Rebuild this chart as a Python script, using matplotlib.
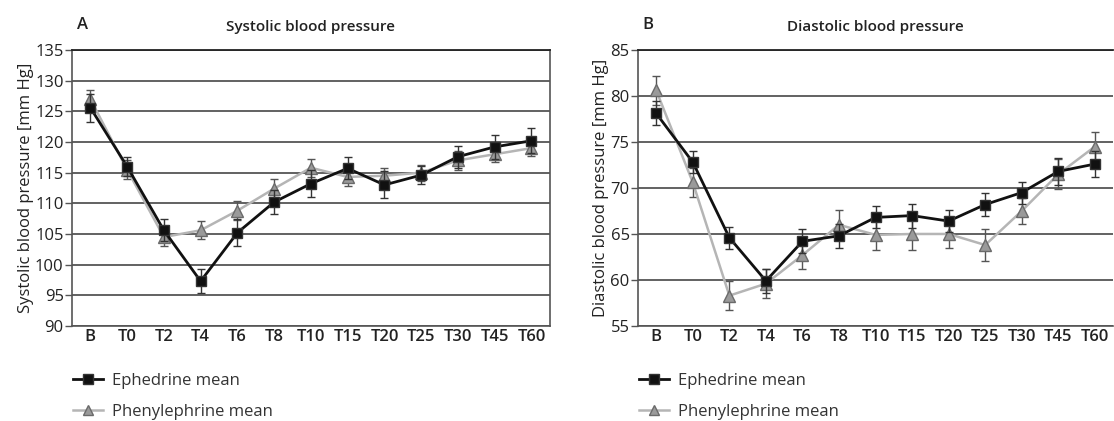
import matplotlib
matplotlib.use("Agg")
import matplotlib.pyplot as plt
from matplotlib.lines import Line2D

plt.rcParams["font.family"] = ["Open Sans", "DejaVu Sans"]

times = ["B", "T0", "T2", "T4", "T6", "T8", "T10", "T15", "T20", "T25", "T30", "T45", "T60"]

# Systolic blood pressure [mm Hg]
sys_eph = [125.6, 116.0, 105.6, 97.3, 105.2, 110.2, 113.2, 115.7, 113.0, 114.6, 117.6, 119.2, 120.2]
sys_eph_err = [2.3, 1.6, 1.8, 2.0, 2.2, 2.0, 2.2, 1.8, 2.2, 1.5, 1.8, 2.0, 2.0]
sys_phe = [127.0, 115.5, 104.5, 105.6, 108.8, 112.4, 115.8, 114.3, 114.5, 115.0, 117.0, 118.0, 119.0]
sys_phe_err = [1.5, 1.5, 1.5, 1.5, 1.5, 1.5, 1.5, 1.5, 1.3, 1.3, 1.5, 1.3, 1.3]

# Diastolic blood pressure [mm Hg]
dia_eph = [78.1, 72.8, 64.6, 59.9, 64.2, 64.8, 66.8, 67.0, 66.4, 68.2, 69.5, 71.8, 72.6]
dia_eph_err = [1.3, 1.2, 1.2, 1.3, 1.3, 1.3, 1.2, 1.3, 1.2, 1.2, 1.2, 1.5, 1.4]
dia_phe = [80.6, 70.6, 58.3, 59.6, 62.7, 66.0, 64.9, 65.0, 65.0, 63.8, 67.5, 71.5, 74.5]
dia_phe_err = [1.6, 1.6, 1.6, 1.6, 1.5, 1.6, 1.6, 1.7, 1.5, 1.7, 1.4, 1.6, 1.6]

TXT = "#222222"
FS = 12

fig = plt.figure(figsize=(11.14, 4.21), dpi=100)

panels = [
    ([0.0646, 0.2257, 0.429, 0.6556], "A", "Systolic blood pressure",
     "Systolic blood pressure [mm Hg]", sys_eph, sys_eph_err, sys_phe, sys_phe_err,
     (90, 135), range(90, 136, 5), True),
    ([0.5727, 0.2257, 0.4265, 0.6556], "B", "Diastolic blood pressure",
     "Diastolic blood pressure [mm Hg]", dia_eph, dia_eph_err, dia_phe, dia_phe_err,
     (55, 85), range(55, 86, 5), False),
]

for rect, letter, title, ylabel, eph, eph_err, phe, phe_err, ylim, yticks, right in panels:
    ax = fig.add_axes(rect)
    x = range(len(times))

    phe_style = dict(color="#b5b5b5", linewidth=1.8, marker="^", markersize=8,
                     markerfacecolor="#9a9a9a", markeredgecolor="#6a6a6a")
    eph_style = dict(color="#111111", linewidth=2.0, marker="s", markersize=7.5,
                     markerfacecolor="#111111", markeredgecolor="#333333")

    ax.errorbar(x, phe, yerr=phe_err, ecolor="#555555", elinewidth=1.0,
                capsize=3, capthick=1.0, zorder=3, **phe_style)
    ax.errorbar(x, eph, yerr=eph_err, ecolor="#333333", elinewidth=1.0,
                capsize=3, capthick=1.0, zorder=4, **eph_style)

    ax.set_xlim(-0.5, len(times) - 0.5)
    ax.set_ylim(*ylim)
    ax.set_yticks(list(yticks))
    ax.set_xticks(list(x))
    ax.set_xticklabels(times, fontsize=FS, fontweight="semibold", color=TXT)
    ax.tick_params(axis="x", length=0, pad=2)
    ax.tick_params(axis="y", length=5, width=1, color="#555555", labelsize=FS,
                   labelcolor=TXT, pad=1)
    ax.yaxis.grid(True, color="#555555", linewidth=1.3)
    ax.set_axisbelow(True)

    for side in ["left", "bottom", "right"]:
        ax.spines[side].set_color("#555555")
        ax.spines[side].set_linewidth(1.2)
    ax.spines["top"].set_color(TXT)
    ax.spines["top"].set_linewidth(1.3)
    ax.spines["right"].set_visible(right)

    ax.set_ylabel(ylabel, fontsize=FS, color=TXT, labelpad=1)
    ax.set_title(title, fontsize=11, fontweight="semibold", color=TXT, pad=14)
    ax.text(0.01, 1.06, letter, transform=ax.transAxes, fontsize=12,
            fontweight="semibold", color=TXT, va="bottom")

    handles = [
        Line2D([], [], **dict(eph_style, markersize=6.5)),
        Line2D([], [], **dict(phe_style, markersize=7)),
    ]
    ax.legend(handles, ["Ephedrine mean", "Phenylephrine mean"], loc="upper left",
              bbox_to_anchor=(-0.012, -0.145), frameon=False, fontsize=FS,
              handlelength=1.8, labelspacing=0.9, handletextpad=0.55,
              labelcolor="#333333", borderaxespad=0)

fig.savefig("out.png", dpi=100)
